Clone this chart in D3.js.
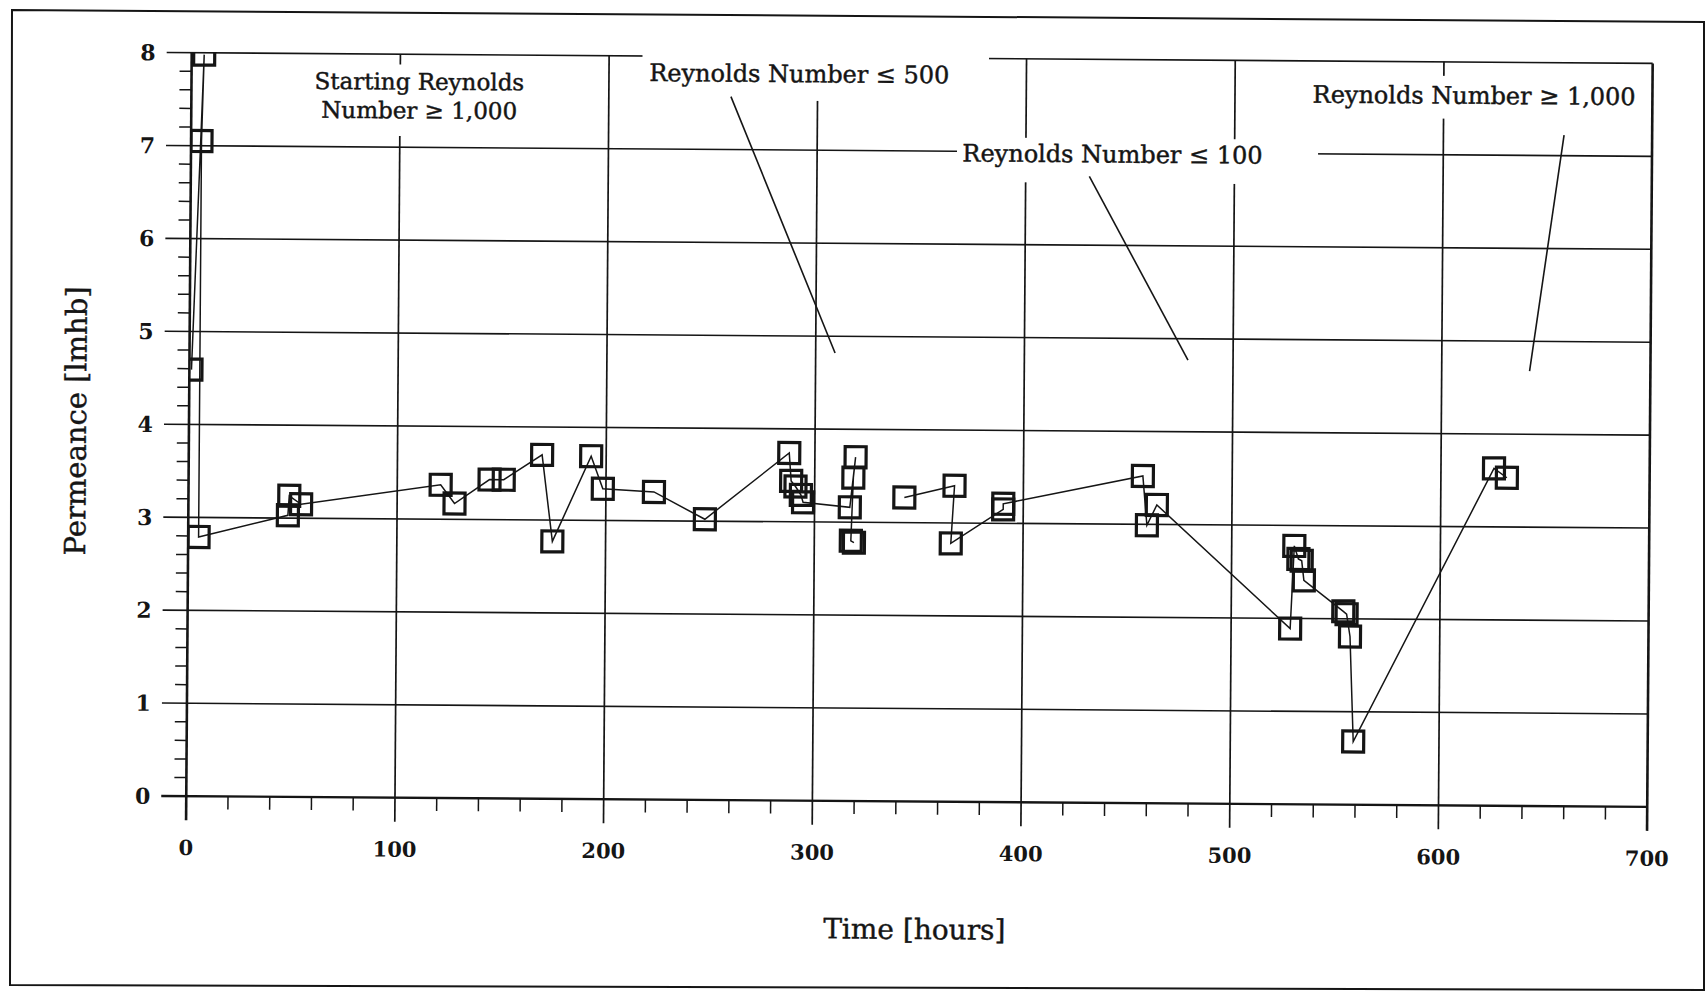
<!DOCTYPE html>
<html>
<head>
<meta charset="utf-8">
<script src="https://cdn.jsdelivr.net/npm/d3@7/dist/d3.min.js"></script>
<style>
  body { margin: 0; background: #fff; }
  svg { display: block; font-family: "DejaVu Serif", serif; }
</style>
</head>
<body>
<svg width="1708" height="991"></svg>
<script>
// readings, in the order the connecting line joins them
var hours = [1, 6, 5, 5, 47.7, 48.3, 54, 120.8, 127.5, 144.2, 151, 169.3, 174.5, 192.8, 198.5,
  223, 247.5, 287.7, 288.7, 290.8, 293.4, 294.5, 316.9, 319.5, 318.5, 317.5, 319,
  343, 367, 365.4, 390.4, 390.4, 457.2, 459.3, 464, 528.3, 530, 532, 533.6, 534.7,
  553.7, 555.3, 557, 558.9, 625.4, 631.6];
var permeance = [4.59, 7.98, 7.05, 2.79, 3.03, 3.24, 3.15, 3.37, 3.17, 3.43, 3.43, 3.70, 2.77, 3.69, 3.34,
  3.31, 3.02, 3.74, 3.44, 3.38, 3.29, 3.21, 3.16, 3.70, 3.48, 2.80, 2.78,
  3.27, 3.40, 2.78, 3.15, 3.21, 3.52, 2.99, 3.21, 1.89, 2.78, 2.64, 2.62, 2.41,
  2.08, 2.05, 1.81, 0.68, 3.63, 3.53];
var lineBreak = 27; // the line is not drawn between reading 27 and 28

var xTicks = [0, 100, 200, 300, 400, 500, 600, 700];
var yTicks = [0, 1, 2, 3, 4, 5, 6, 7, 8];

// annotation labels (data coords)
var notes = [
  {lines: ["Starting Reynolds", "Number \u2265 1,000"], t: 109.2, v: [7.62, 7.31], anchor: "middle",
   size: 23, box: [48, 168, 7.12, 7.89], leader: null},
  {lines: ["Reynolds Number \u2264 500"], t: 219.3, v: [7.73], anchor: "start",
   size: 24, box: [216, 382, 7.53, 8.19], leader: [[258.5, 7.57], [309.3, 4.82]]},
  {lines: ["Reynolds Number \u2264 100"], t: 369.6, v: [6.89], anchor: "start",
   size: 24, box: [367, 540, 6.67, 7.15], leader: [[430.5, 6.74], [478.4, 4.77]]},
  {lines: ["Reynolds Number \u2265 1,000"], t: 537.2, v: [7.55], anchor: "start",
   size: 24, box: [532, 694, 7.39, 7.85], leader: [[657.8, 7.22], [642.1, 4.68]]}
];

var ink = "#151515";
var svg = d3.select("svg");

// page frame (scan edge, not quite square)
svg.append("polygon")
  .attr("points", "12,10 1704,22 1704,990 10,985")
  .attr("fill", "none").attr("stroke", ink).attr("stroke-width", 2);

// the scanned chart is slightly tilted
var g = svg.append("g").attr("transform", "rotate(0.42,916,425)");

var x = d3.scaleLinear().domain([0, 700]).range([189, 1650]);
var y = d3.scaleLinear().domain([0, 8]).range([801.5, 58]);

// horizontal grid lines + major y ticks
g.selectAll(".hgrid").data(yTicks).enter().append("line")
  .attr("x1", x(0) - 25).attr("x2", x(700))
  .attr("y1", function(d) { return y(d); }).attr("y2", function(d) { return y(d); })
  .attr("stroke", ink)
  .attr("stroke-width", function(d) { return d == 0 ? 2.4 : 1.6; });

// vertical grid lines + major x ticks
g.selectAll(".vgrid").data(xTicks).enter().append("line")
  .attr("x1", function(d) { return x(d); }).attr("x2", function(d) { return x(d); })
  .attr("y1", y(8)).attr("y2", y(0) + 24)
  .attr("stroke", ink)
  .attr("stroke-width", function(d) { return (d == 0 || d == 700) ? 2.6 : 1.7; });

// minor ticks
var yMinor = d3.range(0, 8, 0.2).filter(function(d) { return Math.abs(d - Math.round(d)) > 0.01; });
g.selectAll(".ymin").data(yMinor).enter().append("line")
  .attr("x1", x(0) - 12).attr("x2", x(0))
  .attr("y1", function(d) { return y(d); }).attr("y2", function(d) { return y(d); })
  .attr("stroke", ink).attr("stroke-width", 1.5);

var xMinor = d3.range(0, 700, 20).filter(function(d) { return d % 100 != 0; });
g.selectAll(".xmin").data(xMinor).enter().append("line")
  .attr("x1", function(d) { return x(d); }).attr("x2", function(d) { return x(d); })
  .attr("y1", y(0)).attr("y2", y(0) + 13)
  .attr("stroke", ink).attr("stroke-width", 1.5);

// tick labels
g.selectAll(".ylab").data(yTicks).enter().append("text")
  .attr("x", x(0) - 36).attr("y", function(d) { return y(d); })
  .attr("dy", "0.36em").attr("text-anchor", "end")
  .attr("font-size", 22).attr("font-weight", "bold").attr("fill", ink)
  .text(function(d) { return d; });

g.selectAll(".xlab").data(xTicks).enter().append("text")
  .attr("x", function(d) { return x(d); }).attr("y", y(0) + 59)
  .attr("text-anchor", "middle")
  .attr("font-size", 21).attr("font-weight", "bold").attr("fill", ink)
  .text(function(d) { return d; });

// axis titles
g.append("text")
  .attr("x", 918).attr("y", 939).attr("text-anchor", "middle")
  .attr("font-size", 28).attr("fill", ink)
  .attr("stroke", ink).attr("stroke-width", 0.4)
  .text("Time [hours]");

g.append("text")
  .attr("transform", "translate(86,427) rotate(-90)")
  .attr("text-anchor", "middle")
  .attr("font-size", 29).attr("fill", ink)
  .attr("stroke", ink).attr("stroke-width", 0.4)
  .text("Permeance [lmhb]");

// annotations: white boxes over the grid, text and pointer lines
var note = g.selectAll(".note").data(notes).enter().append("g");

note.append("rect")
  .attr("x", function(d) { return x(d.box[0]); })
  .attr("y", function(d) { return y(d.box[3]); })
  .attr("width", function(d) { return x(d.box[1]) - x(d.box[0]); })
  .attr("height", function(d) { return y(d.box[2]) - y(d.box[3]); })
  .attr("fill", "#fff");

note.each(function(d) {
  var sel = d3.select(this);
  d.lines.forEach(function(s, i) {
    sel.append("text")
      .attr("x", x(d.t)).attr("y", y(d.v[i]))
      .attr("text-anchor", d.anchor)
      .attr("font-size", d.size).attr("fill", ink)
      .attr("stroke", ink).attr("stroke-width", 0.45)
      .text(s);
  });
  if (d.leader) {
    sel.append("line")
      .attr("x1", x(d.leader[0][0])).attr("y1", y(d.leader[0][1]))
      .attr("x2", x(d.leader[1][0])).attr("y2", y(d.leader[1][1]))
      .attr("stroke", ink).attr("stroke-width", 1.6);
  }
});

// data
g.append("clipPath").attr("id", "plotClip")
  .append("rect")
  .attr("x", x(0)).attr("y", y(8))
  .attr("width", x(700) - x(0)).attr("height", y(0) - y(8));

var pts = hours.map(function(h, i) { return [h, permeance[i]]; });
var line = d3.line()
  .x(function(d) { return x(d[0]); })
  .y(function(d) { return y(d[1]); });

var dataG = g.append("g").attr("clip-path", "url(#plotClip)");

[pts.slice(0, lineBreak), pts.slice(lineBreak)].forEach(function(run) {
  dataG.append("path")
    .attr("d", line(run))
    .attr("fill", "none").attr("stroke", ink).attr("stroke-width", 1.5);
});

var side = 21;
dataG.selectAll(".pt").data(pts).enter().append("rect")
  .attr("x", function(d) { return x(d[0]) - side / 2; })
  .attr("y", function(d) { return y(d[1]) - side / 2; })
  .attr("width", side).attr("height", side)
  .attr("fill", "none").attr("stroke", ink).attr("stroke-width", 3.2);
</script>
</body>
</html>
